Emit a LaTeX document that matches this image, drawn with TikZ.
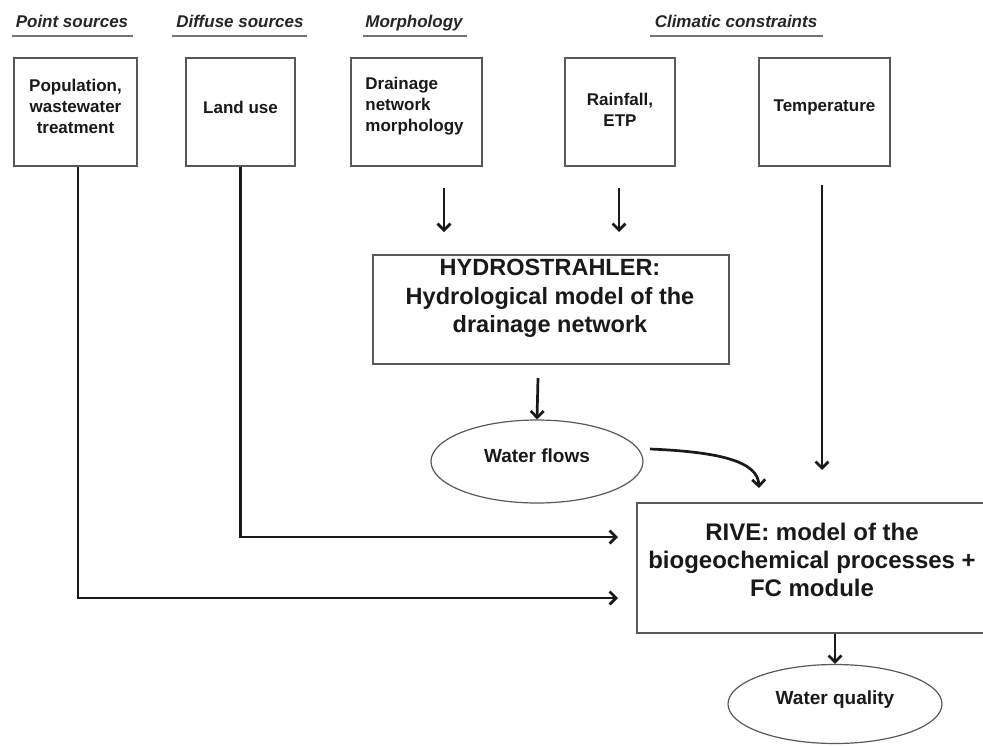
\documentclass[tikz,border=0pt]{standalone}
\usepackage{fontspec}
\setmainfont{Liberation Sans}
\usetikzlibrary{arrows.meta,shapes.geometric}
\tikzset{
  srcbox/.style={draw=black!65, line width=1.3pt, inner sep=0pt},
  btxt/.style={font=\bfseries\fontsize{17}{21}\selectfont, text=black!90, align=center, inner sep=0pt},
  bigtxt/.style={font=\bfseries\fontsize{23.5}{28.5}\selectfont, text=black!90, align=center, inner sep=0pt},
  eltxt/.style={font=\bfseries\fontsize{19}{23}\selectfont, text=black!90, inner sep=0pt},
  hdr/.style={font=\bfseries\itshape\fontsize{17}{21}\selectfont, text=black!85, inner sep=0pt, anchor=base},
  uline/.style={draw=black!55, line width=2.2pt},
  ell/.style={ellipse, draw=black!65, line width=1.2pt, inner sep=0pt},
  arr/.style={draw=black!90, line width=2.7pt, -{Straight Barb[length=6.5pt,width=13pt]}}
}
\begin{document}
\begin{tikzpicture}[x=1pt,y=-1pt]
\useasboundingbox[fill=white] (0,0) rectangle (983,745);

% headers
\node[hdr] (h1) at (72,27) {Point sources};
\node[hdr] (h2) at (240,27) {Diffuse sources};
\node[hdr] (h3) at (414,27) {Morphology};
\node[hdr] (h4) at (736,27) {Climatic constraints};
\draw[uline] (12,36) -- (133,36);
\draw[uline] (172,36) -- (307,36);
\draw[uline] (363,36) -- (467,36);
\draw[uline] (650,36) -- (823,36);

% source boxes
\node[srcbox, minimum width=123pt, minimum height=108pt] (pop) at (75.5,112) {};
\node[btxt] (popt) at (75.5,106.5) {Population,\\wastewater\\treatment};
\node[srcbox, minimum width=109pt, minimum height=108pt] (land) at (240.5,112) {};
\node[btxt] (landt) at (240.5,107) {Land use};
\node[srcbox, minimum width=131pt, minimum height=108pt] (drain) at (416.5,112) {};
\node[btxt, align=left] (draint) at (414.5,106.5) {Drainage\\network\\morphology};
\node[srcbox, minimum width=110pt, minimum height=108pt] (rain) at (620,112) {};
\node[btxt] (raint) at (620,109.5) {Rainfall,\\ETP};
\node[srcbox, minimum width=131pt, minimum height=108pt] (temp) at (824.5,112) {};
\node[btxt] (tempt) at (824.5,107) {Temperature};

% hydrostrahler
\node[srcbox, minimum width=356pt, minimum height=109pt] (hydro) at (551,309.5) {};
\node[bigtxt] (hydrot) at (550,298.5) {HYDROSTRAHLER:\\Hydrological model of the\\drainage network};

% water flows
\node[ell, minimum width=212pt, minimum height=83pt] (wf) at (537,461.5) {};
\node[eltxt] (wft) at (537,456) {Water flows};

% RIVE
\node[srcbox, minimum width=350pt, minimum height=130pt] (rive) at (812,568) {};
\node[bigtxt, font=\bfseries\fontsize{24}{28}\selectfont] (rivet) at (812,560) {RIVE: model of the\\biogeochemical processes +\\FC module};

% water quality
\node[ell, minimum width=214pt, minimum height=79pt] (wq) at (835,704) {};
\node[eltxt] (wqt) at (835,700) {Water quality};

% connector end points
\coordinate (dA) at (444,188);
\coordinate (dB) at (444,232);
\coordinate (rA) at (619,188);
\coordinate (rB) at (619,232);
\coordinate (tA) at (822,185);
\coordinate (tB) at (822,470);
\coordinate (hA) at (538,378);
\coordinate (cA) at (650,449);
\coordinate (cB) at (759,488);
\coordinate (qA) at (835,634);
\coordinate (luIn) at (618,537);
\coordinate (popIn) at (618,598);

% connectors
\draw[arr] (dA) -- (dB);
\draw[arr] (rA) -- (rB);
\draw[arr] (tA) -- (tB);
\draw[arr] (hA) -- (wf.north);
\draw[arr] (cA) .. controls (722,452) and (758,462) .. (cB);
\draw[arr] (qA) -- (wq.north);
\draw[arr] (land.south) |- (luIn);
\draw[arr] ([xshift=2.5pt]pop.south) |- (popIn);
\end{tikzpicture}
\end{document}
